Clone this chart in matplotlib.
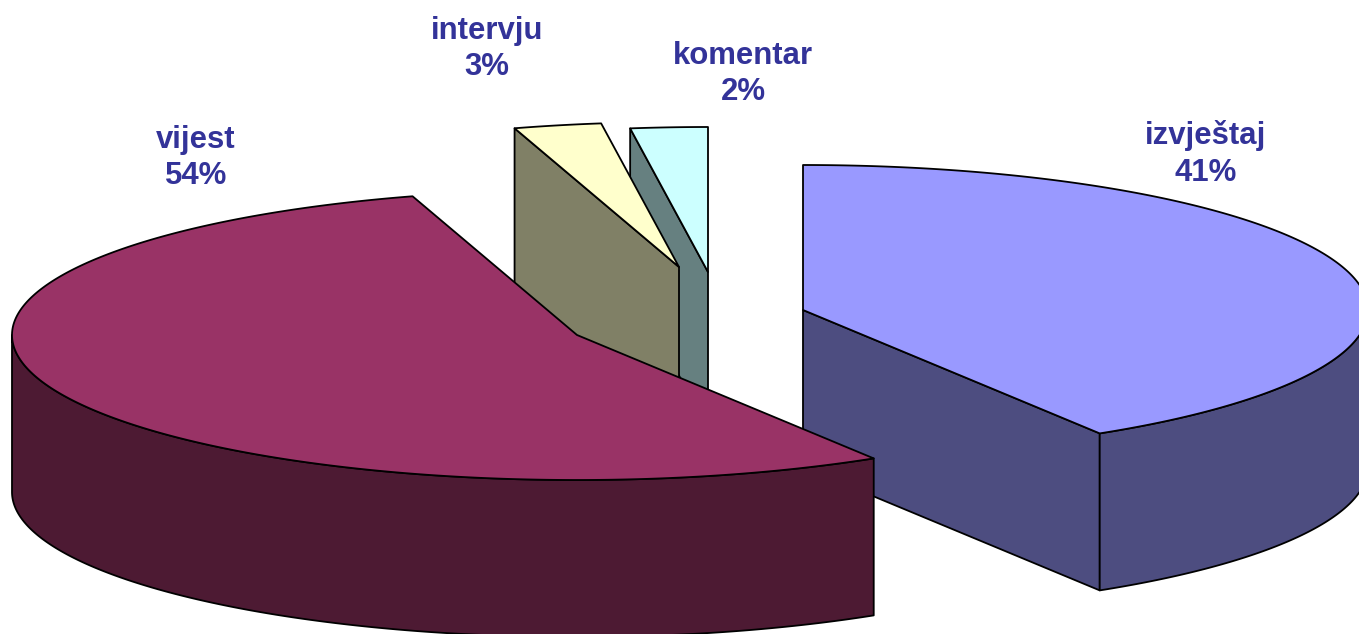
import numpy as np
import matplotlib
matplotlib.use("Agg")
import matplotlib.pyplot as plt
from matplotlib.patches import Polygon

categories = ["izvještaj", "vijest", "intervju", "komentar"]
values = [41.2, 54.1, 2.5, 2.2]
labels = ["41%", "54%", "3%", "2%"]

top_colors = ["#9999FF", "#993366", "#FFFFCC", "#CCFFFF"]
side_colors = ["#4D4D80", "#4D1A33", "#808066", "#668080"]
apexes = [(803, 310), (577, 335), (679, 267), (708, 272)]
label_pos = [(1206, 154), (196, 158), (487, 49), (743, 74)]
draw_order = [3, 2, 0, 1]

RX, RY, DEPTH = 565, 145, 157

fig = plt.figure(figsize=(13.59, 6.34), dpi=100)
ax = fig.add_axes([0, 0, 1, 1])
ax.set_xlim(0, 1359)
ax.set_ylim(634, 0)
ax.axis("off")


def arc(apex, a0, a1):
    t = np.radians(np.linspace(a0, a1, max(int(abs(a1 - a0) * 2), 2)))
    return np.column_stack([apex[0] + RX * np.sin(t), apex[1] - RY * np.cos(t)])


def poly(pts, color, z):
    ax.add_patch(Polygon(pts, closed=True, facecolor=color, edgecolor="black",
                         linewidth=1.3, joinstyle="round", zorder=z))


bounds = np.concatenate([[0], np.cumsum(values)]) / np.sum(values) * 360
down = np.array([0, DEPTH])
for z, i in enumerate(draw_order):
    a0, a1 = bounds[i], bounds[i + 1]
    apex = np.array(apexes[i], float)
    z0 = z * 10
    start = arc(apex, a0, a0 + 1e-6)[0]
    end = arc(apex, a1, a1 + 1e-6)[0]
    # cut face turned towards the viewer
    if a1 <= 180:
        poly([apex, end, end + down, apex + down], side_colors[i], z0 + 1)
    elif a0 >= 180:
        poly([apex, start, start + down, apex + down], side_colors[i], z0 + 1)
    # outer rim on the front half
    r0, r1 = max(a0, 90), min(a1, 270)
    if r1 > r0:
        rim = arc(apex, r0, r1)
        poly(np.vstack([rim, (rim + down)[::-1]]), side_colors[i], z0 + 2)
    top = arc(apex, a0, a1)
    poly(np.vstack([[apex], top]), top_colors[i], z0 + 3)

for name, pct, (x, y) in zip(categories, labels, label_pos):
    ax.text(x, y, f"{name}\n{pct}", ha="center", va="center", color="#333399",
            family=["Liberation Sans", "DejaVu Sans"], fontweight="bold",
            fontsize=22.4, linespacing=1.27, zorder=100)

fig.savefig("out.png", dpi=100, facecolor="white")
